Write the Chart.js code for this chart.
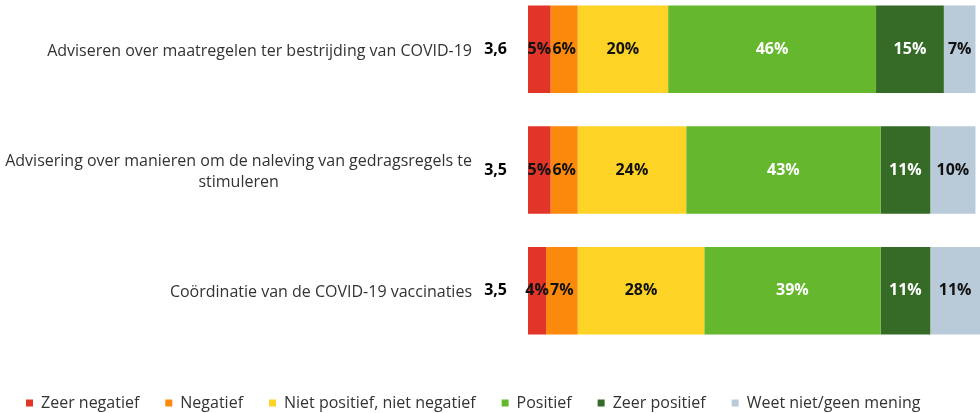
<!DOCTYPE html>
<html>
<head>
<meta charset="utf-8">
<script src="https://cdn.jsdelivr.net/npm/chart.js@4"></script>
<style>
  body { margin: 0; background: #fff; overflow: hidden; }
  #wrap { width: 980px; height: 424px; margin-top: -11px; }
</style>
</head>
<body>
<div id="wrap"><canvas id="chart"></canvas></div>
<script>
const categories = [
    ["Adviseren over maatregelen ter bestrijding van COVID-19"],
    ["Advisering over manieren om de naleving van gedragsregels te", "stimuleren"],
    ["Coördinatie van de COVID-19 vaccinaties"],
];
const scores = ["3,6", "3,5", "3,5"];

const seriesNames = ["Zeer negatief", "Negatief", "Niet positief, niet negatief", "Positief", "Zeer positief", "Weet niet/geen mening"];
const zeerNegatief = [5, 5, 4];
const negatief = [6, 6, 7];
const neutraal = [20, 24, 28];
const positief = [46, 43, 39];
const zeerPositief = [15, 11, 11];
const weetNiet = [7, 10, 11];

const colors = ["#E1352A", "#FB8A0C", "#FDD325", "#65B72D", "#356B27", "#B9CAD8"];
const labelColors = ["#111", "#111", "#111", "#fff", "#fff", "#111"];

const FONT = "'Open Sans', sans-serif";

// labels op de balken + scores + categorieën links
const textPlugin = {
    id: "textPlugin",
    afterDatasetsDraw(chart) {
        const ctx = chart.ctx;
        const left = chart.chartArea.left;
        const yScale = chart.scales.y;
        ctx.save();
        ctx.textBaseline = "middle";

        chart.data.datasets.forEach((ds, i) => {
            const meta = chart.getDatasetMeta(i);
            meta.data.forEach((bar, j) => {
                ctx.font = "bold 16px " + FONT;
                ctx.fillStyle = labelColors[i];
                ctx.textAlign = "center";
                ctx.fillText(ds.data[j] + "%", (bar.x + bar.base) / 2, bar.y);
            });
        });

        categories.forEach((lines, j) => {
            const y = yScale.getPixelForValue(j);
            ctx.font = "bold 16px " + FONT;
            ctx.fillStyle = "#000";
            ctx.textAlign = "right";
            ctx.fillText(scores[j], left - 21, y);

            ctx.font = "16px " + FONT;
            ctx.fillStyle = "#333";
            const w = Math.max(...lines.map((l) => ctx.measureText(l).width));
            const right = left - 56;
            const lh = 21;
            const y0 = y + 2 - ((lines.length - 1) * lh) / 2;
            ctx.textAlign = "center";
            lines.forEach((l, k) => {
                ctx.fillText(l, right - w / 2, y0 + k * lh);
            });
        });
        ctx.restore();
    },
};

const seriesData = [zeerNegatief, negatief, neutraal, positief, zeerPositief, weetNiet];

new Chart(document.getElementById("chart"), {
    type: "bar",
    data: {
        labels: categories.map((c) => c.join(" ")),
        datasets: seriesNames.map((name, i) => ({
            label: name,
            data: seriesData[i],
            backgroundColor: colors[i],
            borderWidth: 0,
            categoryPercentage: 1,
            barPercentage: 0.725,
        })),
    },
    options: {
        indexAxis: "y",
        responsive: true,
        maintainAspectRatio: false,
        animation: false,
        layout: { padding: { left: 0, right: 0, top: 0, bottom: -8 } },
        scales: {
            x: {
                stacked: true,
                min: 0,
                max: 100,
                ticks: { display: false },
                grid: { display: false },
                border: { display: false },
                afterFit: (s) => { s.height = 18; },
            },
            y: {
                stacked: true,
                ticks: { display: false },
                grid: { display: false },
                border: { display: false },
                afterFit: (s) => { s.width = 528; },
            },
        },
        plugins: {
            tooltip: { enabled: false },
            legend: {
                position: "bottom",
                align: "start",
                labels: {
                    boxWidth: 7,
                    boxHeight: 7,
                    padding: 26,
                    color: "#333",
                    font: { family: FONT, size: 16 },
                },
            },
        },
    },
    plugins: [textPlugin],
});
</script>
</body>
</html>
